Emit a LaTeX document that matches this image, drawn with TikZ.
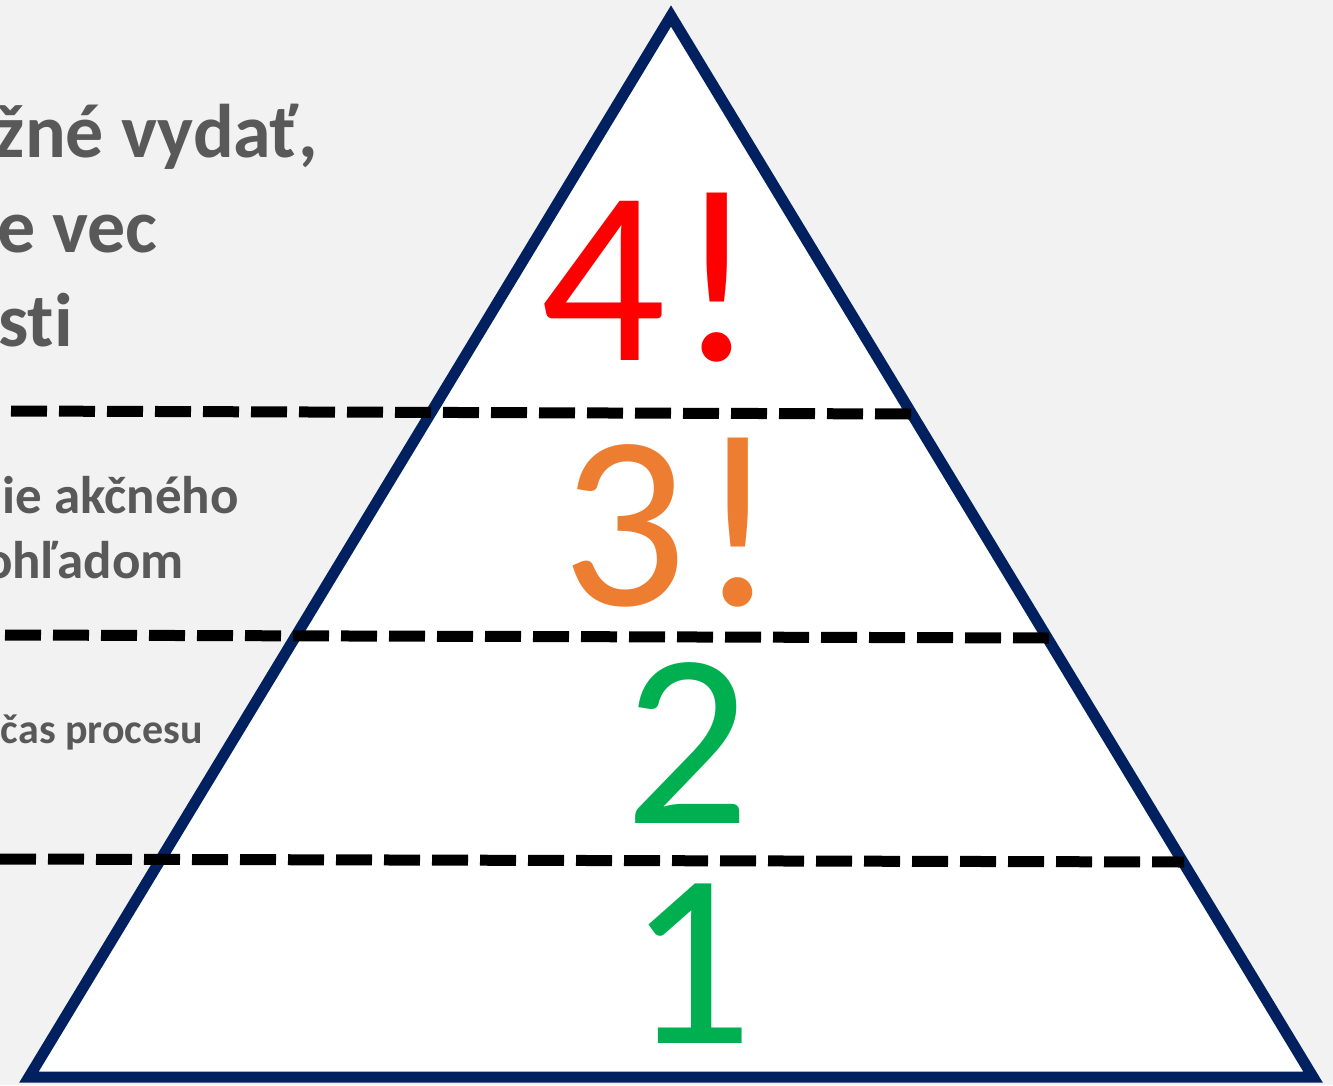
\documentclass[tikz,border=0pt]{standalone}
\usepackage{fontspec}
\setmainfont{Carlito}[Ligatures=NoCommon]
\definecolor{bg}{HTML}{F2F2F2}
\definecolor{navy}{HTML}{002060}
\definecolor{txtgray}{HTML}{595959}
\definecolor{numred}{HTML}{FF0000}
\definecolor{numorange}{HTML}{ED7D31}
\definecolor{numgreen}{HTML}{00B050}
\tikzset{
  bigtext/.style={anchor=base east, inner sep=0pt, text=txtgray, font=\bfseries\fontsize{76}{76}\selectfont},
  midtext/.style={anchor=base east, inner sep=0pt, text=txtgray, font=\bfseries\fontsize{53}{53}\selectfont},
  smalltext/.style={anchor=base east, inner sep=0pt, text=txtgray, font=\bfseries\fontsize{42}{42}\selectfont},
  numtext/.style={anchor=base, inner sep=0pt, font=\fontsize{248}{248}\selectfont},
  divider/.style={line width=11pt, dash pattern=on 36pt off 12pt, black},
  pyramid/.style={draw=navy, fill=white, line width=11pt, miter limit=20}
}
\begin{document}
\begin{tikzpicture}[x=1pt,y=-1pt]
\useasboundingbox (0,0) rectangle (1333,1085);
\fill[bg] (0,0) rectangle (1333,1085);
\begin{scope}
\clip (0,0) rectangle (1333,1085);
\node[bigtext] (t1) at (318,157) {žné vydať,};
\node[bigtext] (t2) at (158,252) {e vec};
\node[bigtext] (t3) at (73,346) {sti};
\node[midtext] (m1) at (239,513) {ie akčného};
\node[midtext] (m2) at (184,578) {ohľadom};
\node[smalltext] (s1) at (203,743) {čas procesu};
\coordinate (apex) at (671,16);
\coordinate (bl) at (29,1077);
\coordinate (br) at (1313,1077);
\draw[pyramid] (apex) -- (bl) -- (br) -- cycle;
\coordinate (d1a) at (11,411);
\coordinate (d1b) at (911,414);
\coordinate (d2a) at (5,635);
\coordinate (d2b) at (1049,638);
\coordinate (d3a) at (0,859);
\coordinate (d3b) at (1184,862);
\draw[divider] (d1a) -- (d1b);
\draw[divider] (d2a) -- (d2b);
\draw[divider] (d3a) -- (d3b);
\node[numtext, text=numred] (n4) at (649,360) {4\kern11pt!};
\node[numtext, text=numorange] (n3) at (670,605) {3\kern10pt!};
\node[numtext, text=numgreen] (n2) at (687,823) {2};
\node[numtext, text=numgreen] (n1) at (690,1043) {1};
\end{scope}
\end{tikzpicture}
\end{document}
